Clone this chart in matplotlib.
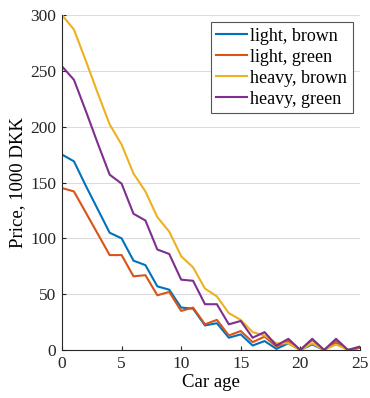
import numpy as np
import matplotlib
matplotlib.use("Agg")
import matplotlib.pyplot as plt

plt.rcParams['font.family'] = ['Liberation Serif', 'DejaVu Serif']

# car age in years
age = np.arange(0, 26)

# prices in 1000 DKK
light_brown = [175, 169, 147, 126, 105, 100, 80, 76, 57, 54, 38, 37, 22, 24, 11, 14,
               4, 8, 1, 6, 0, 5, 0, 6, 0, 2]
light_green = [145, 142, 123, 104, 85, 85, 66, 67, 49, 52, 35, 38, 23, 27, 13, 17,
               7, 12, 3, 8, 0, 9, 0, 8, 0, 2]
heavy_brown = [300, 287, 259, 230, 202, 184, 158, 142, 119, 106, 84, 74, 55, 48, 33, 27,
               16, 13, 6, 6, 0, 6, 0, 5, 0, 3]
heavy_green = [254, 242, 214, 185, 157, 149, 122, 116, 90, 86, 63, 62, 41, 41, 23, 26,
               11, 16, 4, 10, 0, 10, 0, 10, 0, 3]

series = [light_brown, light_green, heavy_brown, heavy_green]
labels = ['light, brown', 'light, green', 'heavy, brown', 'heavy, green']
colors = ['#0072BD', '#D95319', '#EDB120', '#7E2F8E']

fig = plt.figure(figsize=(3.7, 3.98), dpi=100)
ax = fig.add_axes([0.1676, 0.1206, 0.805, 0.8417])

for y, lab, c in zip(series, labels, colors):
    ax.plot(age, y, color=c, lw=1.5, label=lab)

ax.set_xlim(0, 25)
ax.set_ylim(0, 300)
ax.set_xticks(np.arange(0, 26, 5))
ax.set_yticks(np.arange(0, 301, 50))
ax.yaxis.grid(True, color='#dcdcdc', lw=0.8)
ax.set_axisbelow(True)
ax.spines['top'].set_visible(False)
ax.spines['right'].set_visible(False)
for s in ['left', 'bottom']:
    ax.spines[s].set_color('#262626')
    ax.spines[s].set_linewidth(0.8)
ax.tick_params(direction='in', length=3, labelsize=12.5, colors='#262626',
               labelcolor='#262626', pad=4)
ax.set_xlabel('Car age', fontsize=13.5, labelpad=2)
ax.set_ylabel('Price, 1000 DKK', fontsize=13.5, labelpad=3)

leg = ax.legend(loc='upper right', fontsize=13, fancybox=False, framealpha=1,
                edgecolor='#555555', handlelength=1.7, handletextpad=0.2,
                borderpad=0.3, labelspacing=0.22, borderaxespad=0.4)
leg.get_frame().set_linewidth(0.8)

fig.savefig('out.png', dpi=100)
